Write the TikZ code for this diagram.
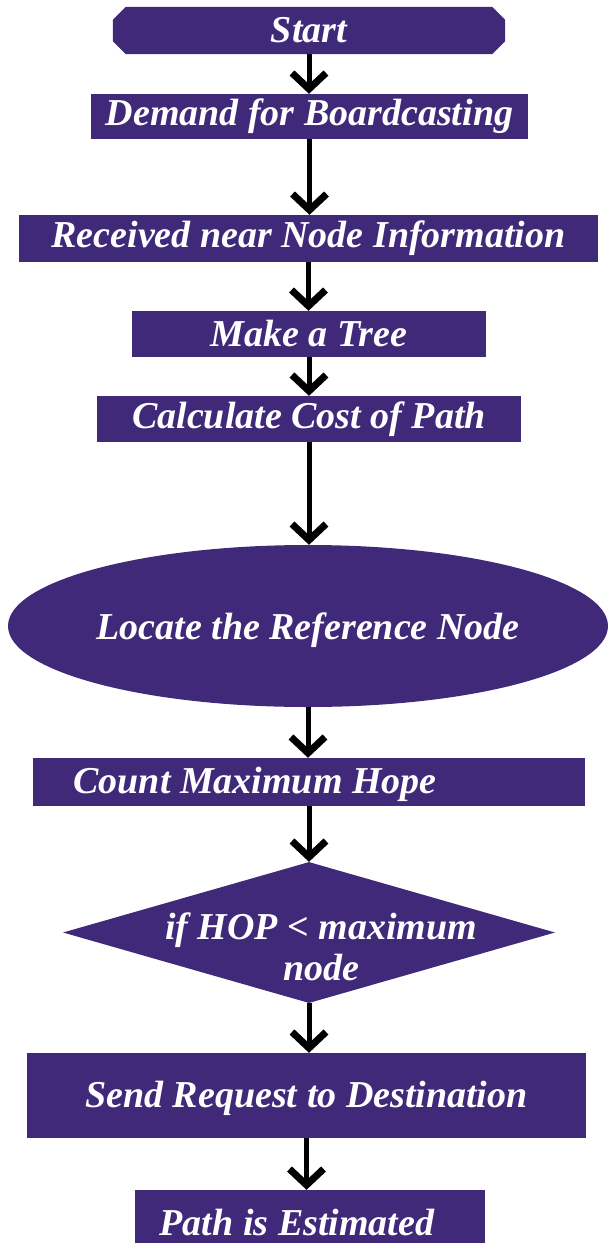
\documentclass[tikz,border=0pt]{standalone}
\usepackage{fontspec}
\setmainfont{Liberation Serif}
\usetikzlibrary{shapes.geometric,arrows.meta}
\definecolor{boxpurple}{RGB}{63,41,120}
\tikzset{
  base/.style={fill=boxpurple, draw=none, text=white, inner sep=0pt,
    font=\fontsize{38}{45}\selectfont\bfseries\itshape},
  rectbox/.style={base, rectangle},
  ellbox/.style={base, ellipse},
  decbox/.style={base, diamond},
  flow/.style={line width=5pt, -{Straight Barb[length=16pt,width=34pt,line width=7pt]}}
}
\begin{document}
\begin{tikzpicture}[x=1pt,y=1pt]
\useasboundingbox[fill=white] (0,0) rectangle (608,-1243);
% Start: rectangle with chamfered corners
\node[base, fill=none, rectangle, minimum width=392pt, minimum height=47pt] (start) at (309,-30.5) {\phantom{Start}};
\fill[boxpurple] ([xshift=13pt]start.north west) -- ([xshift=-13pt]start.north east)
  -- ([yshift=-13pt]start.north east) -- ([yshift=13pt]start.south east)
  -- ([xshift=-13pt]start.south east) -- ([xshift=13pt]start.south west)
  -- ([yshift=13pt]start.south west) -- ([yshift=-13pt]start.north west) -- cycle;
\node[base, fill=none] at (start.center) {Start};
\node[rectbox, minimum width=437pt, minimum height=45pt] (demand) at (309.5,-116.5) {Demand for Boardcasting};
\node[rectbox, minimum width=579pt, minimum height=47pt] (recv) at (308.5,-238.5) {Received near Node Information};
\node[rectbox, minimum width=354pt, minimum height=46pt] (tree) at (309,-334) {Make a Tree};
\node[rectbox, minimum width=424pt, minimum height=46pt] (cost) at (309,-419) {Calculate Cost of Path};
\node[ellbox, minimum width=600pt, minimum height=162pt,
  label={[base, fill=none, yshift=-4pt]center:Locate the Reference Node}] (locate) at (308,-626) {};
\node[rectbox, minimum width=552pt, minimum height=48pt,
  label={[base, fill=none, xshift=-54pt, yshift=-2pt]center:Count Maximum Hope}] (count) at (309,-782) {};
\node[decbox, minimum width=492pt, minimum height=141pt,
  label={[base, fill=none, align=center, xshift=12pt, yshift=-14pt,
    font=\fontsize{38}{41}\selectfont\bfseries\itshape]center:if HOP < maximum\\node}] (dec) at (309,-932.5) {};
\node[rectbox, minimum width=559pt, minimum height=85pt,
  label={[base, fill=none, yshift=-3pt]center:Send Request to Destination}] (send) at (306.5,-1095.5) {};
\node[rectbox, minimum width=350pt, minimum height=60pt,
  label={[base, fill=none, xshift=-13pt, yshift=-2pt]center:Path is Estimated}] (path) at (310,-1220) {};
\draw[flow] (start.south) -- (start.south |- demand.north);
\draw[flow] (demand.south) -- (demand.south |- recv.north);
\draw[flow] (recv.south) -- (recv.south |- tree.north);
\draw[flow] (tree.south) -- (tree.south |- cost.north);
\draw[flow] (cost.south) -- (cost.south |- locate.north);
\draw[flow] (locate.south) -- (locate.south |- count.north);
\draw[flow] (count.south) -- (count.south |- dec.north);
\draw[flow] (dec.south) -- (dec.south |- send.north);
\draw[flow] (send.south) -- (send.south |- path.north);
\end{tikzpicture}
\end{document}
